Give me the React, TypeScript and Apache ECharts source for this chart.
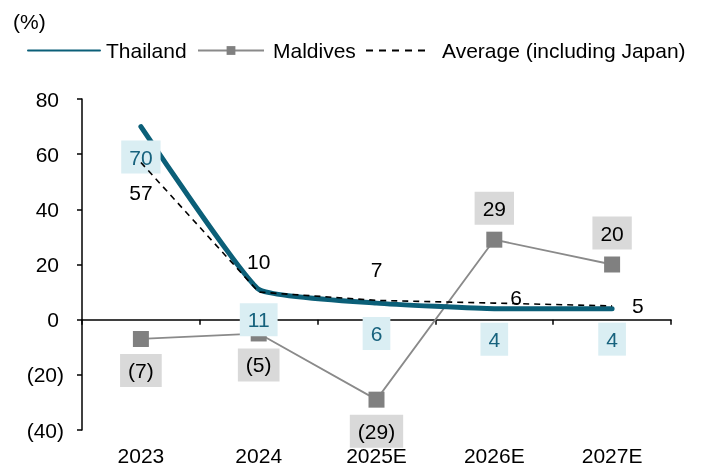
import React, { useEffect, useRef } from "react";
import * as echarts from "echarts";

// Growth rates (%), actual and estimated
const years = ["2023", "2024", "2025E", "2026E", "2027E"];
const thailand = [70, 11, 6, 4, 4];
const maldives = [-7, -5, -29, 29, 20];
const average = [57, 10, 7, 6, 5];

// Value axis range and step
const yMin = -40;
const yMax = 80;
const yStep = 20;

// Where each "Average" value label sits relative to its point
const averageLabelPlacement = ["bottom", "top", "top", "right", "right"];

const FONT = "'Liberation Sans', Arial, Helvetica, sans-serif";
const FS = 21;
const TEAL = "#0B5F78";
const TEAL_TEXT = "#17627D";
const GREY = "#808080";

const fmt = (v: number) => (v < 0 ? `(${Math.abs(v)})` : `${v}`);

export default function App() {
  const ref = useRef<HTMLDivElement>(null);

  useEffect(() => {
    if (!ref.current) return;
    const chart = echarts.init(ref.current, null, { renderer: "svg" });

    const baseText = { fontFamily: FONT, fontSize: FS, color: "#000" };

    const option: any = {
      animation: false,
      textStyle: { fontFamily: FONT },
      title: {
        text: "(%)",
        left: 13,
        top: 11,
        padding: 0,
        textStyle: { ...baseText, fontWeight: "normal" },
      },
      legend: [
        {
          data: ["Thailand"],
          left: 27,
          top: 40,
          padding: 0,
          itemWidth: 72,
          itemHeight: 11,
          textStyle: { ...baseText, padding: [0, 0, 0, 1] },
        },
        {
          data: ["Maldives"],
          left: 197,
          top: 40,
          padding: 0,
          itemWidth: 66,
          itemHeight: 11,
          textStyle: { ...baseText, padding: [0, 0, 0, 4] },
        },
        {
          data: ["Average (including Japan)"],
          left: 365,
          top: 40,
          padding: 0,
          itemWidth: 65,
          itemHeight: 11,
          lineStyle: { type: [7, 6] },
          textStyle: { ...baseText, padding: [0, 0, 0, 6] },
        },
      ],
      grid: { left: 82, right: 34, top: 99, bottom: 39, containLabel: false },
      xAxis: [
        {
          type: "category",
          data: years,
          boundaryGap: true,
          axisLine: { show: true, onZero: true, lineStyle: { color: "#000", width: 1.5 } },
          axisTick: {
            show: true,
            inside: false,
            length: 5,
            interval: 0,
            lineStyle: { color: "#000", width: 1.5 },
          },
          axisLabel: { show: false },
          splitLine: { show: false },
        },
        {
          type: "category",
          data: years,
          position: "bottom",
          axisLine: { show: false, onZero: false },
          axisTick: { show: false },
          axisLabel: { ...baseText, margin: 15 },
          splitLine: { show: false },
        },
      ],
      yAxis: {
        type: "value",
        min: yMin,
        max: yMax,
        interval: yStep,
        axisLine: { show: true, lineStyle: { color: "#000", width: 1.5 } },
        axisTick: { show: true, inside: false, length: 5, lineStyle: { color: "#000", width: 1.5 } },
        splitLine: { show: false },
        axisLabel: {
          margin: 18,
          formatter: (v: number) => (v < 0 ? `{n|(${-v})}` : `{p|${v}}`),
          rich: {
            n: { ...baseText },
            p: { ...baseText, padding: [0, 5, 0, 0] },
          },
        },
      },
      series: [
        {
          name: "Maldives",
          type: "line",
          z: 2,
          data: maldives.map((v) => ({
            value: v,
            label: { position: v < 0 ? "bottom" : "top" },
          })),
          symbol: "rect",
          symbolSize: 16,
          lineStyle: { color: "#8A8A8A", width: 1.8 },
          itemStyle: { color: GREY },
          label: {
            show: true,
            distance: 7,
            formatter: (p: any) => fmt(p.value),
            ...baseText,
            lineHeight: 21,
            backgroundColor: "#D9D9D9",
            padding: [6, 8, 6, 8],
          },
          emphasis: { disabled: true },
        },
        {
          name: "Thailand",
          type: "line",
          z: 3,
          data: thailand,
          smooth: 0.12,
          symbol: "circle",
          symbolSize: 2,
          itemStyle: { color: "rgba(0,0,0,0)" },
          lineStyle: { color: TEAL, width: 5, cap: "round", join: "round" },
          label: {
            show: true,
            position: "bottom",
            distance: 13,
            formatter: (p: any) => fmt(p.value),
            ...baseText,
            color: TEAL_TEXT,
            lineHeight: 21,
            backgroundColor: "#DAEEF3",
            padding: [6, 8, 6, 8],
          },
          emphasis: { disabled: true },
        },
        {
          name: "Average (including Japan)",
          type: "line",
          z: 4,
          data: average.map((v, i) => ({
            value: v,
            label: {
              position: averageLabelPlacement[i],
              offset: i === 3 ? [-4, -6] : [0, 0],
            },
          })),
          symbol: "circle",
          symbolSize: 2,
          itemStyle: { color: "rgba(0,0,0,0)" },
          lineStyle: { color: "#000", width: 1.6, type: [6, 5] },
          label: {
            show: true,
            distance: 19,
            formatter: (p: any) => fmt(p.value),
            ...baseText,
            lineHeight: 21,
          },
          emphasis: { disabled: true },
        },
      ],
    };

    chart.setOption(option);
    return () => chart.dispose();
  }, []);

  return (
    <div
      ref={ref}
      style={{ position: "fixed", left: 0, top: 0, width: 705, height: 469 }}
    />
  );
}
